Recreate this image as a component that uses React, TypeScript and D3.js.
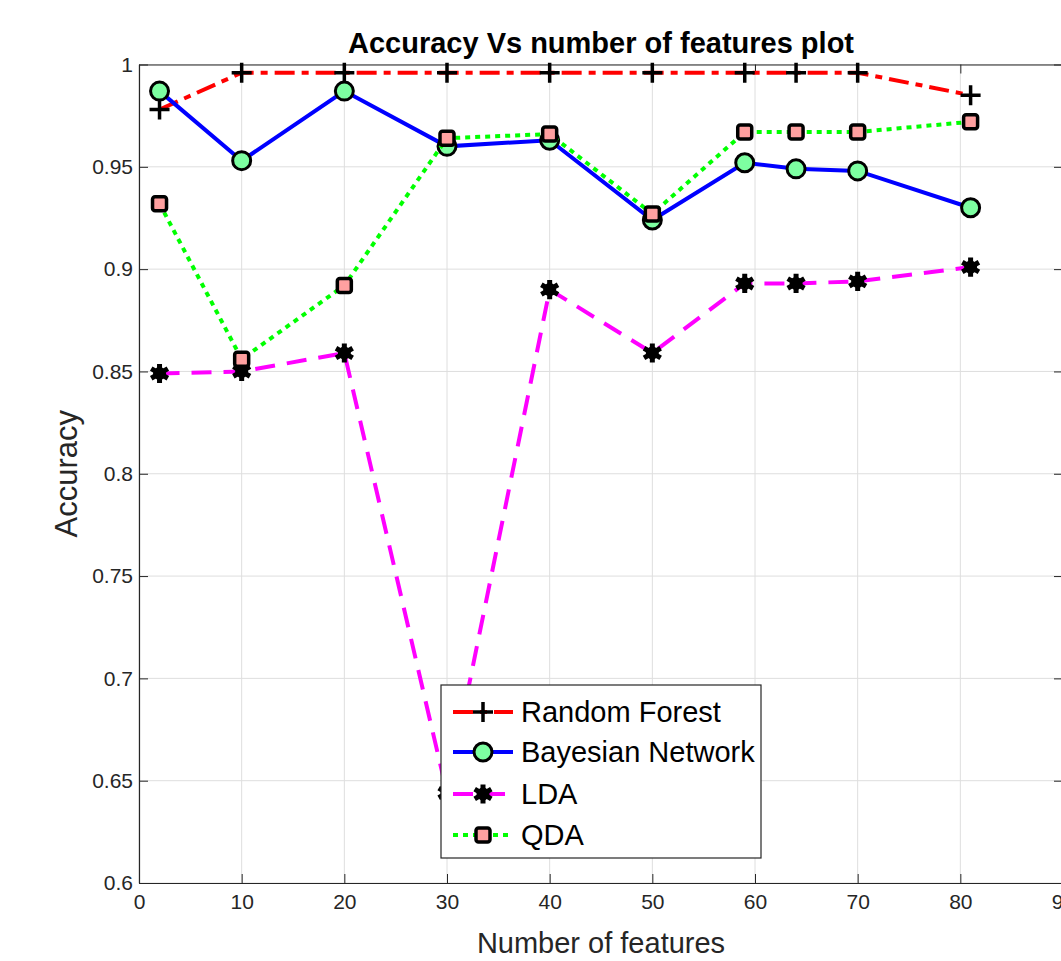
import React, { useEffect, useRef } from "react";
import * as d3 from "d3";

const featureCounts = [2, 10, 20, 30, 40, 50, 59, 64, 70, 81];
const randomForest = [0.978, 0.996, 0.996, 0.996, 0.996, 0.996, 0.996, 0.996, 0.996, 0.985];
const bayesianNetwork = [0.987, 0.953, 0.987, 0.96, 0.963, 0.924, 0.952, 0.949, 0.948, 0.93];
const lda = [0.849, 0.85, 0.859, 0.644, 0.89, 0.859, 0.893, 0.893, 0.894, 0.901];
const qda = [0.932, 0.856, 0.892, 0.964, 0.966, 0.927, 0.967, 0.967, 0.967, 0.972];
const seriesNames = ["Random Forest", "Bayesian Network", "LDA", "QDA"];
const xTicks = [0, 10, 20, 30, 40, 50, 60, 70, 80, 90];
const yTicks = [0.6, 0.65, 0.7, 0.75, 0.8, 0.85, 0.9, 0.95, 1];

const FONT = "'Liberation Sans', Arial, Helvetica, sans-serif";
const AXIS = "#262626";

const App = () => {
    const chartRef = useRef(null);

    useEffect(() => {
        const width = 1061, height = 961;
        const left = 139, right = 1063, top = 64.5, bottom = 883;

        const svg = d3.select(chartRef.current)
            .attr("width", width)
            .attr("height", height);

        svg.selectAll("*").remove(); // Clear previous renders

        const x = d3.scaleLinear().domain([0, 90]).range([left, right]);
        const y = d3.scaleLinear().domain([0.6, 1]).range([bottom, top]);

        svg.append("rect").attr("width", width).attr("height", height).attr("fill", "#fff");

        // grid
        const grid = svg.append("g").attr("stroke", "#dedede").attr("stroke-width", 1);
        xTicks.forEach(t => {
            grid.append("line").attr("x1", x(t)).attr("x2", x(t)).attr("y1", top).attr("y2", bottom);
        });
        yTicks.forEach(t => {
            grid.append("line").attr("x1", left).attr("x2", right).attr("y1", y(t)).attr("y2", y(t));
        });

        // axes (MATLAB style box with inward ticks)
        const styleAxis = g => {
            g.selectAll("path,line").attr("stroke", AXIS);
            g.selectAll("text").attr("fill", AXIS).attr("font-size", 21).attr("font-family", FONT);
        };
        const fmt = v => String(+v.toFixed(2));
        svg.append("g")
            .attr("transform", `translate(0, ${bottom})`)
            .call(d3.axisBottom(x).tickValues(xTicks).tickFormat(fmt).tickSizeInner(-9).tickSizeOuter(0).tickPadding(11))
            .call(styleAxis);
        svg.append("g")
            .attr("transform", `translate(${left}, 0)`)
            .call(d3.axisLeft(y).tickValues(yTicks).tickFormat(fmt).tickSizeInner(-9).tickSizeOuter(0).tickPadding(6))
            .call(styleAxis);
        svg.append("g")
            .attr("transform", `translate(0, ${top})`)
            .call(d3.axisTop(x).tickValues(xTicks).tickFormat(() => "").tickSizeInner(-9).tickSizeOuter(0))
            .call(styleAxis);
        svg.append("g")
            .attr("transform", `translate(${right}, 0)`)
            .call(d3.axisRight(y).tickValues(yTicks).tickFormat(() => "").tickSizeInner(-9).tickSizeOuter(0))
            .call(styleAxis);
        svg.selectAll(".domain").attr("stroke-width", 1.2);

        const series = [
            { name: seriesNames[0], values: randomForest, color: "#ff0000", dash: "20,7,7,7", marker: "plus" },
            { name: seriesNames[1], values: bayesianNetwork, color: "#0000ff", dash: null, marker: "circle" },
            { name: seriesNames[2], values: lda, color: "#ff00ff", dash: "20,12", marker: "asterisk" },
            { name: seriesNames[3], values: qda, color: "#00ff00", dash: "5,5", marker: "square" },
        ];

        const drawMarker = (g, kind, cx, cy) => {
            if (kind === "plus") {
                g.append("path")
                    .attr("d", `M${cx - 10},${cy}H${cx + 10}M${cx},${cy - 10}V${cy + 10}`)
                    .attr("stroke", "#000").attr("stroke-width", 3.5).attr("fill", "none");
            } else if (kind === "circle") {
                g.append("circle").attr("cx", cx).attr("cy", cy).attr("r", 9)
                    .attr("fill", "#7dffa1").attr("stroke", "#000").attr("stroke-width", 3);
            } else if (kind === "asterisk") {
                g.append("path")
                    .attr("transform", `translate(${cx},${cy})`)
                    .attr("d", d3.symbol(d3.symbolAsterisk, 260)())
                    .attr("stroke", "#000").attr("stroke-width", 5).attr("fill", "none");
                g.append("circle").attr("cx", cx).attr("cy", cy).attr("r", 6.5).attr("fill", "#000");
            } else {
                g.append("rect").attr("x", cx - 7).attr("y", cy - 7).attr("width", 14).attr("height", 14)
                    .attr("rx", 2.5)
                    .attr("fill", "#ffa0a0").attr("stroke", "#000").attr("stroke-width", 3.5);
            }
        };

        const line = d3.line().x(d => x(d[0])).y(d => y(d[1]));

        series.forEach(s => {
            const pts = featureCounts.map((f, i) => [f, s.values[i]]);
            const g = svg.append("g");
            g.append("path")
                .attr("d", line(pts))
                .attr("fill", "none")
                .attr("stroke", s.color)
                .attr("stroke-width", 4)
                .attr("stroke-dasharray", s.dash);
            pts.forEach(p => drawMarker(g, s.marker, x(p[0]), y(p[1])));
        });

        // title and axis labels
        svg.append("text")
            .attr("x", (left + right) / 2).attr("y", 53)
            .attr("text-anchor", "middle")
            .attr("font-family", FONT).attr("font-weight", "bold").attr("font-size", 29)
            .attr("fill", "#000")
            .text("Accuracy Vs number of features plot");
        svg.append("text")
            .attr("x", (left + right) / 2).attr("y", 953)
            .attr("text-anchor", "middle")
            .attr("font-family", FONT).attr("font-size", 29)
            .attr("fill", AXIS)
            .text("Number of features");
        svg.append("text")
            .attr("transform", `translate(77, ${(top + bottom) / 2}) rotate(-90)`)
            .attr("text-anchor", "middle")
            .attr("font-family", FONT).attr("font-size", 31)
            .attr("fill", AXIS)
            .text("Accuracy");

        // legend
        const legend = svg.append("g");
        legend.append("rect")
            .attr("x", 441).attr("y", 685).attr("width", 320).attr("height", 173)
            .attr("fill", "#fff").attr("stroke", AXIS).attr("stroke-width", 1.2);
        const rowY = [712, 752, 794, 835];
        series.forEach((s, i) => {
            const ly = rowY[i];
            const lg = legend.append("g");
            lg.append("line")
                .attr("x1", 453).attr("x2", 513).attr("y1", ly).attr("y2", ly)
                .attr("stroke", s.color).attr("stroke-width", 4)
                .attr("stroke-dasharray", s.dash);
            drawMarker(lg, s.marker, 483, ly);
            lg.append("text")
                .attr("x", 521).attr("y", ly).attr("dy", "0.35em")
                .attr("font-family", FONT).attr("font-size", 29)
                .attr("fill", "#000")
                .text(s.name);
        });
    }, []);

    return (
        <svg
            ref={chartRef}
            style={{ position: "absolute", left: 0, top: 0, display: "block" }}
        ></svg>
    );
};

export default App;
